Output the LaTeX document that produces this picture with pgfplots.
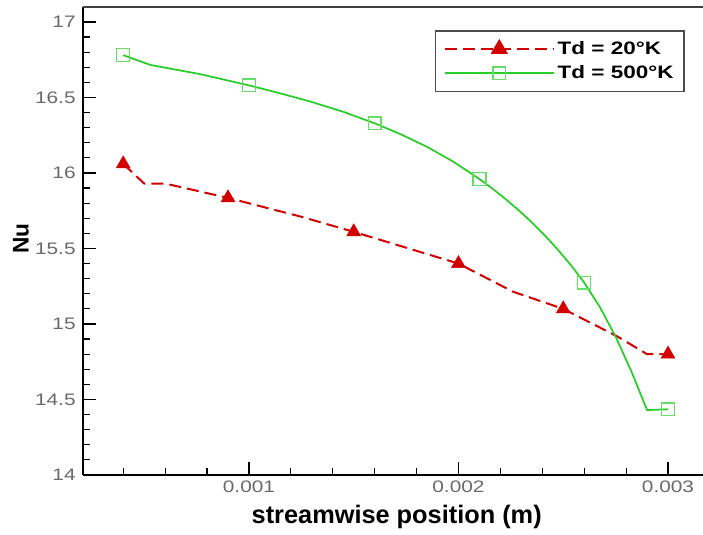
\documentclass[border=0pt]{standalone}
\usepackage{fontspec}
\setmainfont{Liberation Sans}
\newfontfamily\stretchfont{Liberation Sans}[FakeStretch=1.25]
\usepackage{pgfplots}
\pgfplotsset{compat=1.18}
\definecolor{myred}{RGB}{210,0,0}
\definecolor{mygreen}{RGB}{40,205,40}
\definecolor{mysq}{RGB}{100,222,100}
\definecolor{tickgray}{RGB}{105,105,105}

\begin{document}
\begin{tikzpicture}
\begin{axis}[
  scale only axis, width=465pt, height=351pt,
  xmin=0.000208, xmax=0.003167, ymin=14, ymax=17.099,
  axis lines=left, axis line style={-, line width=1.6pt, black},
  clip=false,
  scaled x ticks=false,
  xtick={0.001,0.002,0.003}, xticklabels={0.001,0.002,0.003},
  minor xtick={0.0004,0.0006,0.0008,0.0012,0.0014,0.0016,0.0018,0.0022,0.0024,0.0026,0.0028},
  ytick={14,14.5,15,15.5,16,16.5,17},
  yticklabels={14,14.5,15,15.5,16,16.5,17},
  minor ytick={14.1,14.2,14.3,14.4,14.6,14.7,14.8,14.9,15.1,15.2,15.3,15.4,15.6,15.7,15.8,15.9,16.1,16.2,16.3,16.4,16.6,16.7,16.8,16.9,17.1},
  tick align=inside,
  major tick length=10pt, minor tick length=5pt,
  major tick style={line width=1.3pt, black},
  minor tick style={line width=0.9pt, black},
  /pgf/number format/assume math mode=true,
  tick label style={font=\stretchfont\fontsize{12.5}{14}\selectfont, text=tickgray},
  xticklabel style={yshift=-1pt},
  yticklabel style={xshift=-2pt},
  xlabel={streamwise position (m)},
  ylabel={Nu},
  xlabel style={font=\bfseries\fontsize{19}{22}\selectfont, at={(axis description cs:0.506,-0.09)}, anchor=center},
  ylabel style={font=\bfseries\fontsize{17}{20}\selectfont, at={(axis description cs:-0.1,0.505)}, anchor=center},
  legend style={at={(0.971,0.951)}, anchor=north east, draw=black!70, line width=1.2pt,
    font=\stretchfont\bfseries\fontsize{13.5}{16}\selectfont, row sep=3pt,
    inner xsep=6pt, inner ysep=6pt, cells={anchor=west}, fill=white,
    /tikz/every even column/.append style={column sep=8pt}},
  legend image code/.code={\draw[#1, mark repeat=2, mark phase=2] plot coordinates {(0pt,0pt) (41pt,0pt) (82pt,0pt)};},
]
% line of Td = 20 K
\addplot[forget plot, color=myred, line width=1.5pt, dash pattern=on 9pt off 4.5pt, mark=none] coordinates {
 (0.0004,16.06) (0.0005,15.93) (0.0006,15.93) (0.0009,15.835) (0.00125,15.71)
 (0.0015,15.61) (0.00163,15.556) (0.0020,15.40) (0.00226,15.214) (0.0025,15.10)
 (0.00276,14.916) (0.0029,14.80) (0.0030,14.80)
};
% line of Td = 500 K
\addplot[forget plot, color=mygreen, line width=1.3pt, mark=none] coordinates {
 (0.0004,16.78) (0.00053,16.715) (0.000765,16.655) (0.001,16.58) (0.00115,16.527)
 (0.0013,16.47) (0.00145,16.405) (0.0016,16.329) (0.001725,16.256) (0.00185,16.173)
 (0.001975,16.075) (0.0021,15.96) (0.0021625,15.896) (0.002225,15.827) (0.0022875,15.753)
 (0.00235,15.673) (0.0024125,15.586) (0.002475,15.491) (0.0025375,15.388) (0.0026,15.274)
 (0.002675,15.112) (0.00275,14.916) (0.002825,14.687) (0.0029,14.43) (0.0030,14.435)
};
% markers
\addplot[forget plot, only marks, mark=triangle*, mark size=6pt, mark options={solid, fill=myred, draw=myred}] coordinates {
 (0.0004,16.06) (0.0009,15.835) (0.0015,15.61) (0.0020,15.40) (0.0025,15.10) (0.0030,14.80)
};
\addplot[forget plot, only marks, mark=square, mark size=4.8pt, mark options={solid, draw=mysq, line width=1pt}] coordinates {
 (0.0004,16.78) (0.001,16.58) (0.0016,16.329) (0.0021,15.96) (0.0026,15.274) (0.0030,14.435)
};
\addlegendimage{color=myred, line width=1.5pt, dash pattern=on 9pt off 4.5pt, mark=triangle*, mark size=6pt, mark options={solid, fill=myred, draw=myred}}
\addlegendentry{Td = 20°K}
\addlegendimage{color=mygreen, line width=1.3pt, mark=square, mark size=4.8pt, mark options={solid, draw=mysq, line width=1pt}}
\addlegendentry{Td = 500°K}
\draw[line width=1.6pt, black!75] (rel axis cs:0,1) -- (rel axis cs:1,1);
\coordinate (ll) at (rel axis cs:0,0);
\coordinate (ur) at (rel axis cs:1,1);
\end{axis}
\pgfresetboundingbox
\path ([shift={(-62.25pt,-45pt)}]ll) rectangle ([shift={(0pt,5.25pt)}]ur);
\end{tikzpicture}
\end{document}
